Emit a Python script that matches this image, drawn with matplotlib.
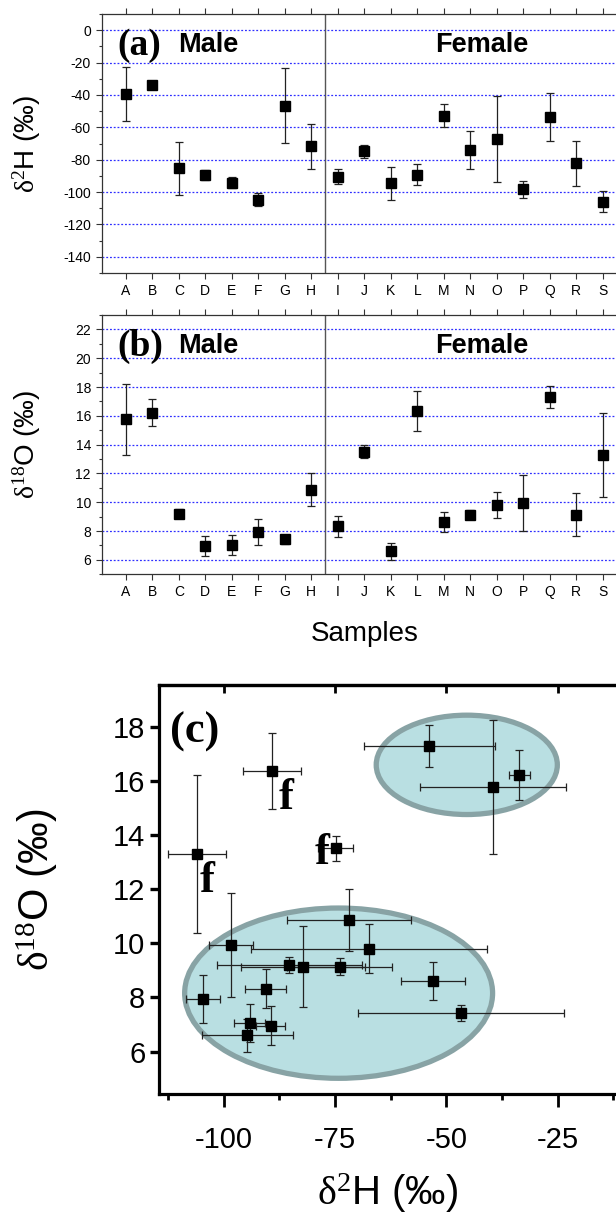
import matplotlib
matplotlib.use('Agg')
import matplotlib.pyplot as plt
from matplotlib.patches import Ellipse
from matplotlib.ticker import MultipleLocator

plt.rcParams['font.family'] = ['Liberation Sans', 'DejaVu Sans']
plt.rcParams['mathtext.fontset'] = 'custom'
plt.rcParams['mathtext.rm'] = 'Liberation Serif'
plt.rcParams['mathtext.it'] = 'Liberation Serif:italic'
plt.rcParams['axes.unicode_minus'] = False

# 样品编号 (A-H 男性, I-S 女性)
samples = ['A', 'B', 'C', 'D', 'E', 'F', 'G', 'H', 'I', 'J',
           'K', 'L', 'M', 'N', 'O', 'P', 'Q', 'R', 'S']
n_male = 8

# δ2H 均值和误差
dH = [-39.5, -33.6, -85.3, -89.5, -94.2, -104.6, -46.7, -71.8, -90.6, -74.9,
      -94.7, -89.2, -53.0, -73.9, -67.4, -98.4, -53.8, -82.2, -106.0]
dH_err = [16.5, 2.4, 16.3, 3.2, 3.5, 3.8, 23.2, 13.9, 4.6, 4.0,
          10.2, 6.5, 7.1, 11.8, 26.6, 5.0, 14.8, 14.0, 6.5]

# δ18O 均值和误差
dO = [15.77, 16.22, 9.20, 6.96, 7.04, 7.94, 7.42, 10.87, 8.32, 13.50,
      6.60, 16.35, 8.62, 9.14, 9.80, 9.94, 17.30, 9.14, 13.30]
dO_err = [2.47, 0.92, 0.30, 0.72, 0.70, 0.90, 0.30, 1.14, 0.73, 0.45,
          0.60, 1.40, 0.70, 0.30, 0.90, 1.93, 0.78, 1.48, 2.92]

# 标记 f 的样品
f_samples = ['L', 'S', 'J']

lbl_H = r'$\mathrm{\delta^{2}}$H (‰)'
lbl_O = r'$\mathrm{\delta^{18}}$O (‰)'

fig = plt.figure(figsize=(6.16, 12.18), dpi=100)

W = 616.0
H = 1218.0
ax_a = fig.add_axes([102 / W, 1 - 273 / H, 524.7 / W, 259 / H])
ax_b = fig.add_axes([102 / W, 1 - 574.3 / H, 524.7 / W, 259.3 / H])
ax_c = fig.add_axes([159.3 / W, 1 - 1094 / H, 465 / W, 409 / H])

xpos = list(range(1, len(samples) + 1))


def top_panels(ax, y, yerr, ylim, major, minor, tag, ylabel):
    for s in ax.spines.values():
        s.set_linewidth(0.9)
        s.set_color('#333333')
    ax.set_axisbelow(True)
    ax.grid(axis='y', color='#2f2fff', linestyle=(0, (1.5, 1.5)), linewidth=0.9)
    ax.axvline(n_male + 0.5, color='#555555', linewidth=1.0)
    ax.errorbar(xpos, y, yerr=yerr, fmt='s', color='k', ms=6.5,
                ecolor='#222222', elinewidth=0.9, capsize=3, capthick=0.9, zorder=3)
    ax.set_xlim(0.1, 19.9)
    ax.set_ylim(*ylim)
    ax.set_xticks(xpos)
    ax.set_xticklabels(samples, fontsize=10.5)
    ax.yaxis.set_major_locator(MultipleLocator(major))
    ax.yaxis.set_minor_locator(MultipleLocator(minor))
    ax.tick_params(axis='both', which='major', direction='out', length=4.5, width=0.8,
                   labelsize=10, top=True, color='#333333')
    ax.tick_params(axis='y', which='minor', direction='out', length=2.5, width=0.8,
                   color='#333333')
    ax.set_ylabel(ylabel, fontsize=20)
    ax.yaxis.set_label_coords(-0.112, 0.5)
    ax.text(0.03, 0.88, tag, transform=ax.transAxes, fontsize=27, fontweight='bold',
            family='Liberation Serif', ha='left', va='center')
    ax.text(0.145, 0.88, 'Male', transform=ax.transAxes, fontsize=19.5,
            fontweight='bold', ha='left', va='center')
    ax.text(0.724, 0.88, 'Female', transform=ax.transAxes, fontsize=19.5,
            fontweight='bold', ha='center', va='center')


top_panels(ax_a, dH, dH_err, (-150, 10), 20, 10, '(a)', lbl_H)
top_panels(ax_b, dO, dO_err, (5, 23), 2, 1, '(b)', lbl_O)
ax_b.set_xlabel('Samples', fontsize=20)
ax_b.xaxis.set_label_coords(0.5, -0.18)

# (c) δ2H vs δ18O
ax_c.add_patch(Ellipse((-45.4, 16.59), 40.7, 3.67, facecolor='#b9dfe2',
                       edgecolor='#88a3a5', linewidth=3.8, zorder=1))
ax_c.add_patch(Ellipse((-74.2, 8.155), 69.2, 6.29, facecolor='#b9dfe2',
                       edgecolor='#88a3a5', linewidth=3.8, zorder=1))
ax_c.errorbar(dH, dO, xerr=dH_err, yerr=dO_err, fmt='s', color='k', ms=6.5,
              ecolor='#222222', elinewidth=0.9, capsize=3, capthick=0.9, zorder=3)

f_offsets = {'L': (7, -38, 'left'), 'S': (3, -38, 'left'), 'J': (-6, -16, 'right')}
for s in f_samples:
    i = samples.index(s)
    dx, dy, ha = f_offsets[s]
    ax_c.annotate('f', xy=(dH[i], dO[i]), xytext=(dx, dy), textcoords='offset pixels',
                  fontsize=32, fontweight='bold', family='Liberation Serif',
                  ha=ha, va='baseline')

ax_c.text(0.023, 0.886, '(c)', transform=ax_c.transAxes, fontsize=32,
          fontweight='bold', family='Liberation Serif', ha='left', va='center')

ax_c.set_xlim(-114.5, -10)
ax_c.set_ylim(4.43, 19.54)
ax_c.set_xticks([-100, -75, -50, -25])
ax_c.xaxis.set_minor_locator(MultipleLocator(12.5))
ax_c.set_yticks([6, 8, 10, 12, 14, 16, 18])
for s in ax_c.spines.values():
    s.set_linewidth(2.3)
ax_c.tick_params(axis='x', which='major', direction='out', length=9, width=2,
                 labelsize=21, pad=14, top=False)
ax_c.tick_params(axis='x', which='minor', direction='out', length=4.5, width=2, top=False)
ax_c.tick_params(axis='y', which='major', direction='out', length=6.5, width=2.4,
                 labelsize=21, right=False)
sec = ax_c.secondary_xaxis('top')
sec.set_xticks([-100, -75, -50, -25])
sec.tick_params(direction='in', length=6, width=2, labeltop=False)
sec.spines['top'].set_linewidth(2.3)
ax_c.set_xlabel(lbl_H, fontsize=29)
ax_c.xaxis.set_label_coords(0.491, -0.19)
ax_c.set_ylabel(lbl_O, fontsize=30)
ax_c.yaxis.set_label_coords(-0.213, 0.5)

fig.savefig('out.png', dpi=100)
